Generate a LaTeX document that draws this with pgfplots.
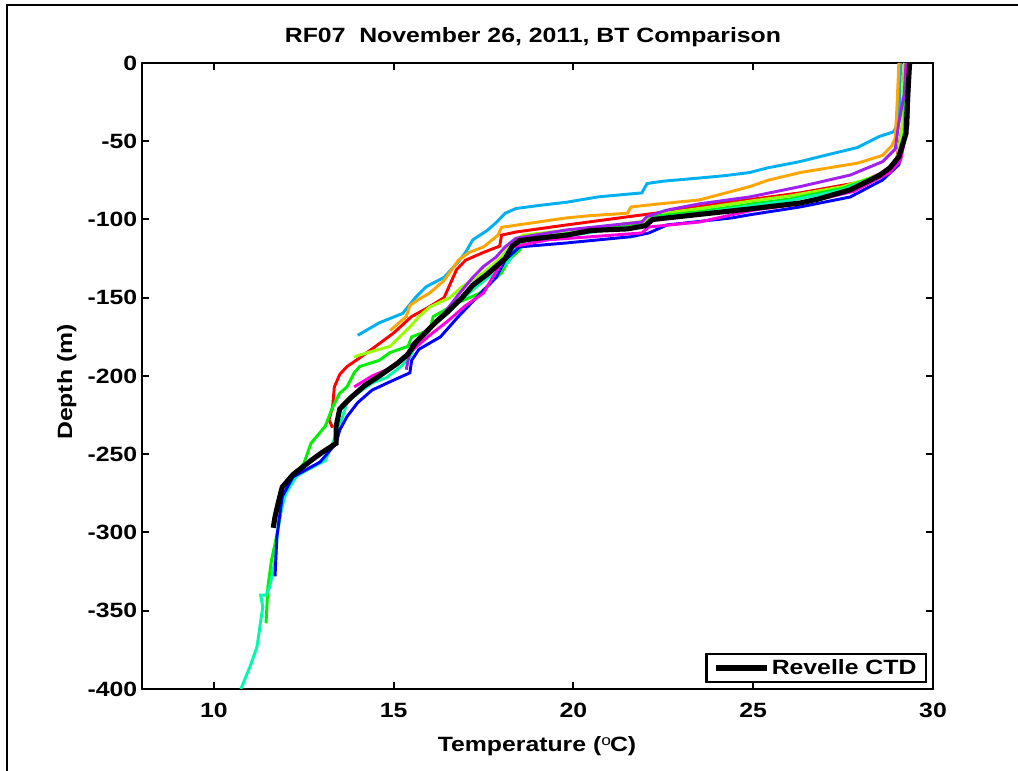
\documentclass[border=0pt]{standalone}
\usepackage{pgfplots}
\pgfplotsset{compat=1.18}
\usepackage{fontspec}
\setmainfont{Liberation Sans}[FakeStretch=1.2]
\newcommand{\myfont}{\fontsize{15.5}{18}\selectfont\bfseries}
\definecolor{cLB}{RGB}{0,176,240}
\definecolor{cOR}{RGB}{255,165,0}
\definecolor{cRD}{RGB}{255,0,0}
\definecolor{cCH}{RGB}{150,255,0}
\definecolor{cGR}{RGB}{0,240,0}
\definecolor{cAQ}{RGB}{0,250,170}
\definecolor{cPU}{RGB}{160,32,240}
\definecolor{cMG}{RGB}{255,0,220}
\definecolor{cBL}{RGB}{0,0,255}
\begin{document}
\begin{tikzpicture}[font=\myfont]
\useasboundingbox (0pt,0pt) rectangle (763.5pt,578.25pt);
\draw[line width=2pt] (5.25pt,-2pt) -- (5.25pt,574.5pt) -- (770pt,574.5pt);
\node[anchor=base] at (399.75pt,546pt) {RF07\ \ November 26, 2011, BT Comparison};
\node[anchor=base] at (402.75pt,14.25pt) {Temperature ($^{\mathrm{o}}$C)};
\node[anchor=base,rotate=90] at (54pt,291.75pt) {Depth (m)};
\begin{axis}[
  at={(106.5pt,61.5pt)}, anchor=south west,
  scale only axis, width=593.25pt, height=469.5pt,
  xmin=8, xmax=30, ymin=-400, ymax=0,
  xtick={10,15,20,25,30}, ytick={-400,-350,...,0},
  axis line style={line width=2pt},
  major tick length=5pt,
  tick style={line width=1.5pt, black},
  tick align=inside,
  /pgf/number format/assume math mode=true,
  ticklabel style={font=\myfont},
  xticklabel style={anchor=base, yshift=-21.5pt},
  legend style={at={(rel axis cs:1,0)}, anchor=south east, xshift=-4.5pt, yshift=4.5pt,
    draw=black, line width=1.8pt, font=\myfont, inner ysep=2pt, inner xsep=5pt},
  legend cell align=left,
  legend image code/.code={\draw[#1] (0pt,0pt) -- (38pt,0pt);},
]
\addplot[cLB, line width=2.2pt, forget plot] table {
29.1 0
29.05 -38
28.9 -44
28.5 -47
27.9 -54
27.0 -59
26.3 -63
25.4 -67
24.9 -70
24.2 -72
23.5 -73.5
22.5 -75.5
22.05 -77
21.9 -83
20.7 -85.5
19.8 -89
19.05 -91
18.4 -93
18.1 -96
17.85 -102
17.6 -107
17.2 -113
17.0 -121
16.8 -127
16.4 -137
15.9 -143
15.6 -150
15.25 -160
14.6 -166
14.0 -174
};
\addplot[cOR, line width=2.2pt, forget plot] table {
29.05 0
29.0 -27
28.95 -48
28.85 -53
28.6 -59
27.9 -64
26.3 -70
25.4 -75
24.9 -79
23.5 -87.5
22.4 -90
21.6 -92
21.5 -96
20.5 -97.5
19.8 -99
18.9 -102
18.0 -105
17.9 -110
17.5 -117.5
17.1 -121
16.8 -126
16.4 -139
16.0 -147
15.7 -151
15.45 -155
15.35 -162
15.0 -169
14.9 -171
};
\addplot[cRD, line width=2.2pt, forget plot] table {
29.2 0
29.15 -40
29.0 -60
28.8 -68
28.0 -76
26.3 -83
25.0 -87
24.0 -90
22.6 -95
21.6 -98
19.8 -103.5
18.4 -108
18.0 -110
17.95 -117
17.5 -121
17.0 -126
16.75 -132
16.4 -150
15.9 -157
15.5 -162
15.0 -172.5
14.5 -181
14.05 -188.5
13.7 -194
13.5 -199
13.35 -207
13.3 -220
13.2 -228
13.3 -233
};
\addplot[cCH, line width=2.2pt, forget plot] table {
29.2 0
29.15 -40
29.0 -62
28.7 -70
27.5 -79
26 -85
25 -88
23.5 -93
22.2 -97
22.0 -101
21 -104
19.8 -107
18.6 -110
18.3 -114
18.0 -124
17.5 -134
16.9 -143
16.55 -150
16.0 -156
15.7 -162
15.5 -167.5
14.9 -181
14.05 -186.6
13.9 -188
};
\addplot[cGR, line width=2.2pt, forget plot] table {
29.25 0
29.2 -45
29.0 -62
28.6 -71
27.5 -80
26 -87
25 -90
23.5 -95
22.2 -98
22.0 -103
21 -105.5
19.8 -109
18.7 -112
18.5 -119.5
18.2 -126
18.0 -134
17.4 -147
16.8 -153
16.1 -162
16.0 -170.6
15.5 -175
15.4 -181
14.9 -185
14.6 -190
14.05 -194
13.9 -198
13.7 -207
13.5 -211
13.3 -220
13.1 -232
12.7 -243
12.5 -256
12.2 -264
11.95 -275
11.8 -296
11.6 -318
11.5 -335
11.45 -358
};
\addplot[cAQ, line width=2.2pt, forget plot] table {
29.3 0
29.25 -45
29.05 -62
28.7 -70
27.5 -81
26 -88
25 -91
23.5 -96
22.2 -99
22.0 -104
21 -106.5
19.8 -110.5
18.6 -113
18.4 -118
18.2 -127
17.8 -134
17.3 -143
16.9 -151
16.5 -160
16.1 -168
15.7 -176
15.45 -188
15.2 -194
14.8 -201
14.4 -204.5
14.0 -211
13.7 -217
13.5 -232
13.1 -254
12.6 -260
12.3 -264
12.0 -275
11.8 -292
11.7 -318
11.55 -335
11.45 -340
11.3 -340
11.36 -347.6
11.28 -360
11.2 -373
11.0 -386
10.75 -400
};
\addplot[cBL, line width=2.2pt, forget plot] table {
29.35 0
29.3 -40
29.05 -65
28.6 -74.7
27.7 -85.6
26.3 -92
24.9 -97
24.4 -99
22.6 -103.5
22.1 -108.6
21.6 -111
19.8 -115
18.5 -117.5
18.1 -126
17.85 -137
17.3 -150
16.8 -162
16.3 -175
16.0 -179
15.7 -183
15.5 -190
15.45 -198
15.0 -202.6
14.4 -209
14.0 -217
13.7 -226
13.5 -234.5
13.4 -243
12.95 -255
12.2 -264.5
11.9 -277
11.75 -303
11.7 -328
};
\addplot[cPU, line width=2.2pt, forget plot] table {
29.25 0
29.2 -20
29.05 -38
28.95 -55
28.6 -63
27.7 -71.6
26.3 -79
24.9 -85.6
23.5 -90
22.6 -94
22.05 -98
21.9 -101.6
19.8 -106.7
18.4 -112
18.1 -117.5
17.85 -124
17.5 -130
17.2 -137
16.8 -148
16.4 -160
15.9 -171
15.5 -180
15.4 -190
15.35 -196
};
\addplot[cMG, line width=2.2pt, forget plot] table {
29.3 0
29.25 -45
29.1 -62
28.8 -70
27.8 -82
26.3 -90
25 -94
23.5 -101.6
22.1 -104.8
21.9 -108.6
20.5 -111
19.3 -113
18.3 -117.5
18.0 -128
17.7 -139
17.5 -147
17.0 -155
16.5 -165
16.0 -174
15.5 -184
15.0 -194
14.4 -200
13.9 -207
};
\addplot[black, line width=3.8pt] table {
29.35 0
29.3 -20
29.25 -45
29.05 -60
28.8 -67
28.5 -72
27.7 -81
26.8 -87
26.3 -89.5
25.0 -93
24.0 -95.5
23.0 -98
22.2 -100
22.0 -104
21.5 -106
20.5 -107
19.8 -110
19.0 -112
18.5 -113.5
18.3 -117
18.1 -125
17.8 -131
17.6 -135
17.2 -142
16.9 -150
16.5 -159
16.2 -165
15.9 -172
15.6 -179
15.4 -186
15.1 -192
14.6 -200
14.2 -206
13.8 -214
13.5 -221
13.4 -232
13.4 -243
13.0 -249
12.7 -254
12.2 -263
11.9 -271
11.8 -280
11.7 -290
11.65 -297
};
\addlegendentry{Revelle CTD}
\end{axis}
\end{tikzpicture}
\end{document}
